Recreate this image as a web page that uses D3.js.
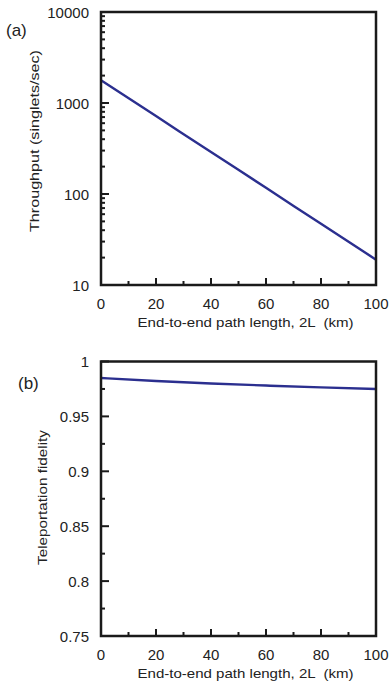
<meta charset="utf-8">
<html lang="en">
<head>
    <meta charset="utf-8">
    <style>
        body { margin: 0; background: #fff; }
        svg { display: block; font-family: "Liberation Sans", Arial, sans-serif; }
    </style>
</head>
<body>
    <div id="my_dataviz"></div>
    <script src="https://d3js.org/d3.v7.min.js"></script>
    <script>
        // data
        var pathLength = [0, 20, 40, 60, 80, 100];
        var throughput = [1780, 718, 289, 117, 47, 19];
        var fidelity = [0.985, 0.9823, 0.9800, 0.9781, 0.9764, 0.975];
        var xTicks = [0, 20, 40, 60, 80, 100];
        var thrTicks = [10, 100, 1000, 10000];
        var fidTicks = [0.75, 0.8, 0.85, 0.9, 0.95, 1];

        var W = 391, H = 685;
        var left = 101, right = 376;
        var lineColor = "#2b2f8f";

        var svg = d3.select("#my_dataviz")
            .append("svg")
            .attr("width", W)
            .attr("height", H);

        var x = d3.scaleLinear().domain([0, 100]).range([left, right]);

        function drawPanel(opts) {
            var g = svg.append("g");
            var y = opts.y;
            var top = y.range()[1], bottom = y.range()[0];

            // x ticks (inward), minor every 10
            d3.range(0, 101, 10).forEach(function (v) {
                var major = v % 20 === 0;
                g.append("line")
                    .attr("x1", x(v)).attr("x2", x(v))
                    .attr("y1", bottom).attr("y2", bottom - (major ? 7 : 4))
                    .attr("stroke", "#1a1a1a").attr("stroke-width", 2);
            });
            g.selectAll(null).data(xTicks).enter().append("text")
                .attr("x", function (d) { return x(d); })
                .attr("y", bottom + 24)
                .attr("text-anchor", "middle")
                .style("font-size", "15px")
                .attr("fill", "#222")
                .text(function (d) { return d; });

            // y ticks
            opts.minor.forEach(function (v) {
                g.append("line")
                    .attr("x1", left).attr("x2", left + 4)
                    .attr("y1", y(v)).attr("y2", y(v))
                    .attr("stroke", "#1a1a1a").attr("stroke-width", 2);
            });
            opts.major.forEach(function (v) {
                g.append("line")
                    .attr("x1", left).attr("x2", left + 8)
                    .attr("y1", y(v)).attr("y2", y(v))
                    .attr("stroke", "#1a1a1a").attr("stroke-width", 2);
            });
            g.selectAll(null).data(opts.major).enter().append("text")
                .attr("x", left - 12)
                .attr("y", function (d) { return y(d) + 5.5; })
                .attr("text-anchor", "end")
                .style("font-size", "15px")
                .attr("fill", "#222")
                .text(function (d) { return opts.fmt(d); });

            // curve
            var line = d3.line()
                .curve(d3.curveMonotoneX)
                .x(function (d, i) { return x(pathLength[i]); })
                .y(function (d) { return y(d); });
            g.append("path")
                .datum(opts.values)
                .attr("d", line)
                .attr("fill", "none")
                .attr("stroke", lineColor)
                .attr("stroke-width", 2.4);

            // frame
            g.append("rect")
                .attr("x", left).attr("y", top)
                .attr("width", right - left).attr("height", bottom - top)
                .attr("fill", "none")
                .attr("stroke", "#1a1a1a").attr("stroke-width", 2.5);

            // labels
            g.append("text")
                .attr("x", (left + right) / 2 + 7)
                .attr("y", bottom + 42)
                .attr("text-anchor", "middle")
                .style("font-size", "13px")
                .attr("fill", "#222")
                .attr("xml:space", "preserve")
                .attr("textLength", 216)
                .attr("lengthAdjust", "spacingAndGlyphs")
                .text("End-to-end path length, 2L  (km)");
            g.append("text")
                .attr("transform", "translate(" + opts.ylabX + "," + opts.ylabY + ") rotate(-90)")
                .attr("text-anchor", "middle")
                .style("font-size", "13px")
                .attr("fill", "#222")
                .attr("textLength", opts.ylabLen)
                .attr("lengthAdjust", "spacingAndGlyphs")
                .text(opts.ylabel);
            g.append("text")
                .attr("x", opts.tagX).attr("y", opts.tagY)
                .style("font-size", "17px")
                .attr("fill", "#222")
                .text(opts.tag);
        }

        // (a) throughput, log scale
        var yA = d3.scaleLog().domain([10, 10000]).range([285, 12]);
        var minorA = [];
        [10, 100, 1000].forEach(function (dec) {
            for (var k = 2; k <= 9; k++) minorA.push(dec * k);
        });
        drawPanel({
            y: yA, values: throughput, major: thrTicks, minor: minorA,
            fmt: function (d) { return d; },
            ylabel: "Throughput (singlets/sec)", ylabX: 38.5, ylabY: 141, ylabLen: 182,
            tag: "(a)", tagX: 6, tagY: 36
        });

        // (b) fidelity
        var yB = d3.scaleLinear().domain([0.75, 1]).range([636, 361.5]);
        drawPanel({
            y: yB, values: fidelity, major: fidTicks,
            minor: d3.range(0.775, 1, 0.05),
            fmt: function (d) { return d === 1 ? "1" : d3.format("")(d); },
            ylabel: "Teleportation fidelity", ylabX: 47, ylabY: 497.5, ylabLen: 135,
            tag: "(b)", tagX: 18, tagY: 389
        });
    </script>
</body>
</html>
